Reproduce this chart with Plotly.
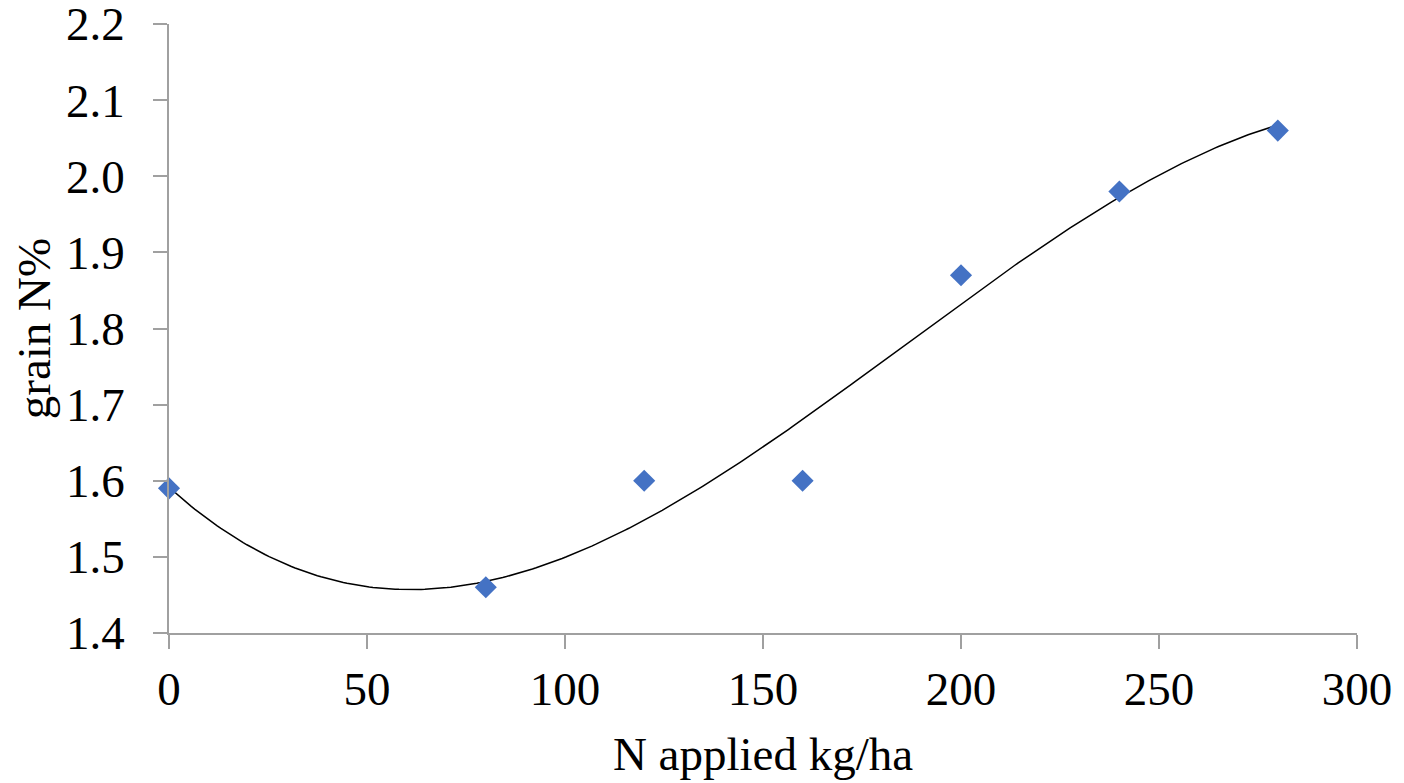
import numpy as np
import plotly.graph_objects as go

n_applied = [0, 80, 120, 160, 200, 240, 280]
grain_n = [1.59, 1.46, 1.60, 1.60, 1.87, 1.98, 2.06]
x_ticks = [0, 50, 100, 150, 200, 250, 300]
y_ticks = [1.4, 1.5, 1.6, 1.7, 1.8, 1.9, 2.0, 2.1, 2.2]

# cubic polynomial trendline fitted to the data (as in the spreadsheet chart)
coef = np.polyfit(n_applied, grain_n, 3)
xt = np.linspace(min(n_applied), max(n_applied), 300)
yt = np.polyval(coef, xt)

font = "Liberation Serif, Times New Roman, serif"
fig = go.Figure()
fig.add_trace(go.Scatter(x=xt, y=yt, mode="lines",
                         line=dict(color="black", width=1.5), showlegend=False,
                         hoverinfo="skip", cliponaxis=False))
fig.add_trace(go.Scatter(x=n_applied, y=grain_n, mode="markers",
                         marker=dict(symbol="diamond", size=17, color="#4472C4"),
                         showlegend=False, cliponaxis=False))

fig.update_layout(
    width=1396, height=775,
    margin=dict(l=161, r=47, t=16, b=150),
    paper_bgcolor="white", plot_bgcolor="white",
    font=dict(family=font, size=47, color="black"),
    xaxis=dict(range=[0, 300], tickvals=x_ticks, ticks="outside", ticklen=14,
               tickcolor="#a0a0a0", tickwidth=1.5, showline=True, linecolor="#a0a0a0",
               linewidth=1.5, showgrid=False, zeroline=False, automargin=False,
               ticklabelstandoff=0, ticklabeloverflow="allow",
               title=dict(text="N applied kg/ha", standoff=23,
                          font=dict(family=font, size=47))),
    yaxis=dict(range=[1.4, 2.2], tickvals=y_ticks, tickformat=".1f", ticks="outside",
               ticklen=14, tickcolor="#a0a0a0", tickwidth=1.5, showline=True,
               linecolor="#a0a0a0", linewidth=1.5, showgrid=False, zeroline=False,
               automargin=False, ticklabelstandoff=19, ticklabeloverflow="allow",
               title=dict(text="grain N%", standoff=22,
                          font=dict(family=font, size=47))),
)
fig.write_html("out.html")
